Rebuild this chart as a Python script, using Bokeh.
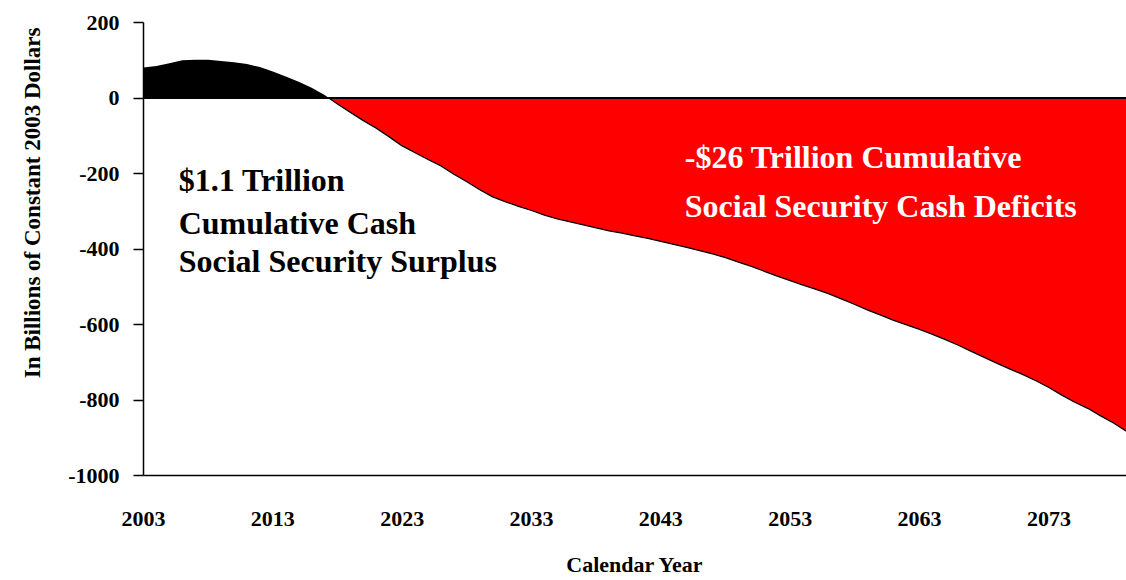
from bokeh.plotting import figure
from bokeh.models import FixedTicker, Label, Title
from bokeh.embed import file_html
from bokeh.resources import INLINE

years = list(range(2003, 2080))
balance = [81, 85, 92, 100, 101, 101, 98, 95, 90, 82,
           70, 57, 43, 27, 8, -16, -38, -60, -80, -103,
           -127, -145, -163, -180, -202, -222, -243, -262, -275, -287,
           -298, -310, -320, -328, -336, -344, -352, -358, -365, -372,
           -380, -388, -396, -404, -413, -423, -435, -446, -459, -472,
           -484, -496, -507, -519, -533, -547, -562, -575, -589, -601,
           -613, -626, -640, -655, -671, -687, -703, -718, -733, -749,
           -767, -787, -806, -822, -842, -861, -883]
y_ticks = [200, 0, -200, -400, -600, -800, -1000]
x_ticks = [2003, 2013, 2023, 2033, 2043, 2053, 2063, 2073]
surplus_text = ["$1.1 Trillion", "Cumulative Cash", "Social Security Surplus"]
deficit_text = ["-$26 Trillion Cumulative", "Social Security Cash Deficits"]
y_title = "In Billions of Constant 2003 Dollars"
x_title = "Calendar Year"

# insert zero crossings so fills split cleanly
xs, ys = [], []
for i in range(len(years)):
    if i > 0 and (balance[i - 1] > 0) != (balance[i] > 0) and balance[i] != 0:
        a, b = balance[i - 1], balance[i]
        t = a / (a - b)
        xs.append(years[i - 1] + t)
        ys.append(0.0)
    xs.append(years[i])
    ys.append(balance[i])
pos = [max(v, 0) for v in ys]
neg = [min(v, 0) for v in ys]

FONT = "Liberation Serif"

p = figure(width=1126, height=580, output_backend="svg", toolbar_location=None,
           x_range=(2003, 2079), y_range=(-1000, 200),
           min_border_left=143, min_border_right=0, min_border_top=22,
           min_border_bottom=105)
p.outline_line_color = None
p.xgrid.visible = False
p.ygrid.visible = False
p.background_fill_color = "white"
p.border_fill_color = "white"

p.varea(x=xs, y1=[0] * len(xs), y2=pos, fill_color="black")
p.varea(x=xs, y1=[0] * len(xs), y2=neg, fill_color="#ff0000")
p.line(x=xs, y=neg, line_color="black", line_width=1.3)
p.line(x=[xs[0], xs[-1]], y=[0, 0], line_color="black", line_width=2)

p.yaxis.ticker = FixedTicker(ticks=y_ticks)
p.yaxis.major_label_overrides = {t: str(t) for t in y_ticks}
p.yaxis.major_tick_out = 10
p.yaxis.major_tick_in = 0
p.yaxis.minor_tick_line_color = None
p.yaxis.major_label_standoff = 14
p.yaxis.major_label_text_font = FONT
p.yaxis.major_label_text_font_style = "bold"
p.yaxis.major_label_text_font_size = "22px"
p.yaxis.major_label_text_color = "black"
p.yaxis.axis_line_width = 1.5
p.yaxis.major_tick_line_width = 1.5

p.xaxis.ticker = FixedTicker(ticks=x_ticks)
p.xaxis.major_label_overrides = {t: str(t) for t in x_ticks}
p.xaxis.major_tick_line_color = None
p.xaxis.minor_tick_line_color = None
p.xaxis.major_label_standoff = 30
p.xaxis.major_label_text_font = FONT
p.xaxis.major_label_text_font_style = "bold"
p.xaxis.major_label_text_font_size = "22px"
p.xaxis.major_label_text_color = "black"
p.xaxis.axis_line_width = 1.5
p.xaxis.axis_label = x_title
p.xaxis.axis_label_text_font = FONT
p.xaxis.axis_label_text_font_style = "bold"
p.xaxis.axis_label_text_font_size = "22px"
p.xaxis.axis_label_text_color = "black"
p.xaxis.axis_label_standoff = 23

# vertical title on the left, aligned towards the top like the reference
p.add_layout(Title(text=y_title, align="right", offset=5, standoff=38,
                   vertical_align="top",
                   text_font=FONT, text_font_style="bold",
                   text_font_size="23px", text_color="black"), "left")

for txt, yv in zip(surplus_text, [-216, -330, -433]):
    p.add_layout(Label(x=2005.72, y=yv, text=txt, text_font=FONT,
                       text_font_style="bold", text_font_size="32px",
                       text_color="black", text_baseline="alphabetic"))
for txt, yv in zip(deficit_text, [-155, -285]):
    p.add_layout(Label(x=2044.85, y=yv, text=txt, text_font=FONT,
                       text_font_style="bold", text_font_size="32px",
                       text_color="white", text_baseline="alphabetic"))

open("out.html", "w").write(file_html(p, INLINE))
